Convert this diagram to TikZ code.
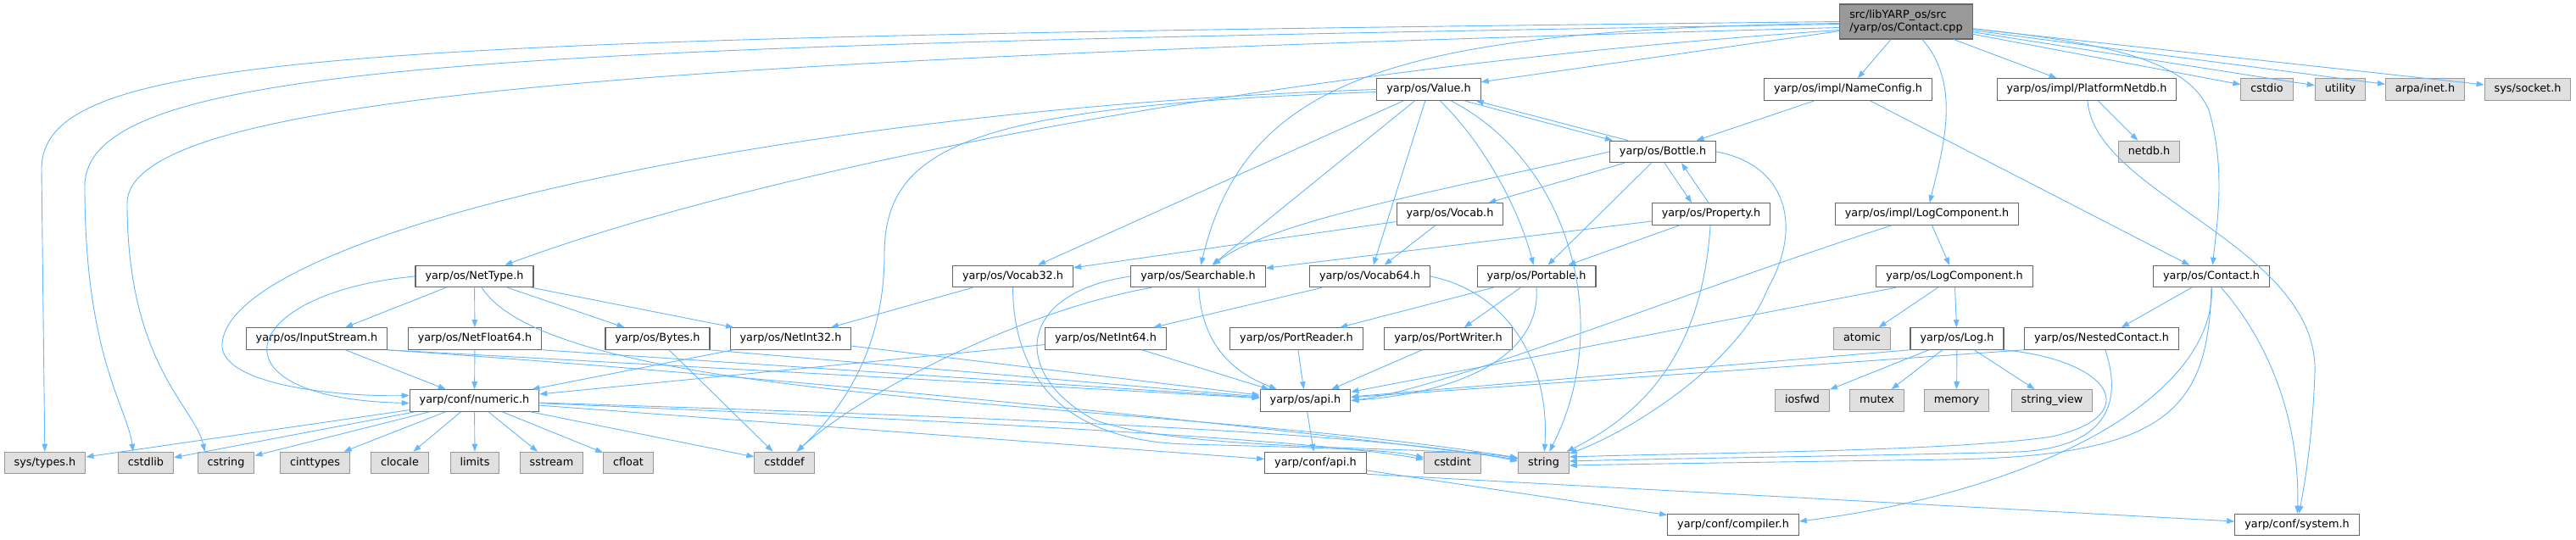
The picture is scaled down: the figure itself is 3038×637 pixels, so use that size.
\documentclass[tikz,border=0pt]{standalone}
\usepackage{fontspec}
\setmainfont{DejaVu Sans}
\usetikzlibrary{arrows.meta}
\definecolor{edgeblue}{HTML}{63B8FF}
\definecolor{boxline}{HTML}{666666}
\definecolor{extline}{HTML}{999999}
\definecolor{extfill}{HTML}{E0E0E0}
\definecolor{rootfill}{HTML}{999999}

\begin{document}
\begin{tikzpicture}[x=1pt,y=-1pt,
    hdr/.style={draw=boxline,fill=white,line width=1.1pt,minimum height=25.5pt,
      inner xsep=11.5pt,inner ysep=2pt,text height=9.5pt,text depth=3pt,
      font=\fontsize{12.8}{15}\selectfont},
    ext/.style={hdr,draw=extline,fill=extfill},
    src/.style={hdr,fill=rootfill,align=left,minimum height=41pt,text height=,text depth=},
    dep/.style={draw=edgeblue,line width=0.9pt,-{Triangle[length=9pt,width=6.5pt]}}]
    \path[use as bounding box,fill=white] (0,0) rectangle (3038,637);

    % fichier source
    \node[src] (root) at (2248,25.5) {src/libYARP\_os/src\\/yarp/os/Contact.cpp};

    % niveau 1 et 2
    \node[hdr] (value) at (1685,105.5) {yarp/os/Value.h};
    \node[hdr] (nameconfig) at (2179.5,105.5) {yarp/os/impl/NameConfig.h};
    \node[hdr] (platformnetdb) at (2461,105.5) {yarp/os/impl/PlatformNetdb.h};
    \node[ext] (cstdio) at (2673.5,105.5) {cstdio};
    \node[ext] (utility) at (2760,105.5) {utility};
    \node[ext] (arpainet) at (2860,105.5) {arpa/inet.h};
    \node[ext] (syssocket) at (2981,105.5) {sys/socket.h};
    \node[hdr] (bottle) at (1961,179) {yarp/os/Bottle.h};
    \node[ext] (netdb) at (2534.5,179) {netdb.h};

    % niveau 3 et 4
    \node[hdr] (vocab) at (1710,252.5) {yarp/os/Vocab.h};
    \node[hdr] (property) at (2018,252.5) {yarp/os/Property.h};
    \node[hdr] (implog) at (2272.5,252.5) {yarp/os/impl/LogComponent.h};
    \node[hdr] (nettype) at (559.5,326) {yarp/os/NetType.h};
    \node[hdr] (vocab32) at (1194.5,326) {yarp/os/Vocab32.h};
    \node[hdr] (searchable) at (1413,326) {yarp/os/Searchable.h};
    \node[hdr] (vocab64) at (1615.5,326) {yarp/os/Vocab64.h};
    \node[hdr] (portable) at (1812,326) {yarp/os/Portable.h};
    \node[hdr] (logcomp) at (2305,326) {yarp/os/LogComponent.h};
    \node[hdr] (contact) at (2608,326) {yarp/os/Contact.h};

    % niveau 5
    \node[hdr] (inputstream) at (373.5,399.5) {yarp/os/InputStream.h};
    \node[hdr] (netfloat64) at (560,399.5) {yarp/os/NetFloat64.h};
    \node[hdr] (bytes) at (775.5,399.5) {yarp/os/Bytes.h};
    \node[hdr] (netint32) at (932.5,399.5) {yarp/os/NetInt32.h};
    \node[hdr] (netint64) at (1304,399.5) {yarp/os/NetInt64.h};
    \node[hdr] (portreader) at (1529,399.5) {yarp/os/PortReader.h};
    \node[hdr] (portwriter) at (1708,399.5) {yarp/os/PortWriter.h};
    \node[ext] (atomic) at (2196,399.5) {atomic};
    \node[hdr] (log) at (2308,399.5) {yarp/os/Log.h};
    \node[hdr] (nested) at (2478.5,399.5) {yarp/os/NestedContact.h};

    % niveau 6
    \node[hdr] (numeric) at (559.5,472.5) {yarp/conf/numeric.h};
    \node[hdr] (osapi) at (1539.5,472.5) {yarp/os/api.h};
    \node[ext] (iosfwd) at (2125.5,472.5) {iosfwd};
    \node[ext] (mutex) at (2213.5,472.5) {mutex};
    \node[ext] (memory) at (2307.5,472.5) {memory};
    \node[ext] (stringview) at (2420,472.5) {string\_view};

    % niveau 7 et 8
    \node[ext] (systypes) at (53,546) {sys/types.h};
    \node[ext] (cstdlib) at (172,546) {cstdlib};
    \node[ext] (cstring) at (266.5,546) {cstring};
    \node[ext] (cinttypes) at (371.5,546) {cinttypes};
    \node[ext] (clocale) at (471.5,546) {clocale};
    \node[ext] (limits) at (560,546) {limits};
    \node[ext] (sstream) at (650.5,546) {sstream};
    \node[ext] (cfloat) at (741,546) {cfloat};
    \node[ext] (cstddef) at (925,546) {cstddef};
    \node[hdr] (confapi) at (1551.5,546) {yarp/conf/api.h};
    \node[ext] (cstdint) at (1713,546) {cstdint};
    \node[ext] (string) at (1820.5,546) {string};
    \node[hdr] (compiler) at (2044,619) {yarp/conf/compiler.h};
    \node[hdr] (system) at (2709,619) {yarp/conf/system.h};

    % inclusions directes
    \foreach \b in {value,nameconfig,platformnetdb,cstdio,utility,arpainet,syssocket}
        \draw[dep] (root) -- (\b);
    \foreach \a/\b in {nameconfig/bottle,nameconfig/contact,platformnetdb/netdb,
        value/vocab32,value/searchable,value/vocab64,bottle/vocab,bottle/portable,
        vocab/vocab32,vocab/vocab64,property/searchable,property/portable,
        implog/logcomp,logcomp/atomic,logcomp/log,logcomp/osapi,contact/nested,
        nettype/inputstream,nettype/netfloat64,nettype/bytes,nettype/netint32,
        vocab32/netint32,vocab64/netint64,portable/portreader,portable/portwriter,
        inputstream/numeric,netfloat64/numeric,bytes/cstddef,netint32/numeric,
        netint32/osapi,netint64/numeric,netint64/osapi,portreader/osapi,
        portwriter/osapi,log/iosfwd,log/mutex,log/memory,log/stringview,
        osapi/confapi,confapi/compiler}
        \draw[dep] (\a) -- (\b);
    \foreach \b in {systypes,cstdlib,cstring,cinttypes,clocale,limits,sstream,
        cfloat,cstddef,confapi}
        \draw[dep] (numeric) -- (\b);

    % depuis les coins
    \draw[dep] (inputstream.south east) -- (osapi);
    \draw[dep] (netfloat64.south east) -- (osapi);
    \draw[dep] (bytes.south east) -- (osapi);
    \draw[dep] (log.south west) -- (osapi);
    \draw[dep] (nested.south west) -- (osapi);
    \draw[dep] (confapi.south east) -- (system);

    % aller-retour
    \draw[dep] ([xshift=-20pt]value.south east) -- ([xshift=4pt]bottle.north west);
    \draw[dep] ([xshift=22pt]bottle.north west) -- ([xshift=-6pt]value.south east);
    \draw[dep] ([xshift=2pt]bottle.south) -- ([xshift=-23pt]property.north);
    \draw[dep] ([xshift=-3pt]property.north) -- ([xshift=22pt]bottle.south);

    % longues courbes du fichier source
    \draw[dep] (root.west) .. controls (400,45) and (49,60) .. (49,200) -- (systypes);
    \draw[dep] ([yshift=-3pt]root.west) .. controls (600,55) and (100,70) .. (100,220)
        .. controls (100,420) and (150,480) .. ([xshift=-15pt]cstdlib.north);
    \draw[dep] ([yshift=-7pt]root.west) .. controls (800,70) and (150,110) .. (150,240)
        .. controls (150,430) and (230,480) .. ([xshift=-25pt]cstring.north);
    \draw[dep] ([yshift=-10pt]root.west) .. controls (1500,80) and (900,200) .. (nettype);
    \draw[dep] ([yshift=-2pt]root.west) .. controls (1650,35) and (1470,90) .. (searchable);
    \draw[dep] (root) .. controls (2315,100) and (2290,180) .. (implog);
    \draw[dep] (root) .. controls (2480,50) and (2580,70) .. (2605,130)
        .. controls (2625,200) and (2615,260) .. (contact);

    % courbes de Value.h et Bottle.h
    \draw[dep] (value.west) .. controls (900,130) and (255,280) .. (262,410)
        .. controls (268,455) and (400,468) .. ([yshift=6pt]numeric.west);
    \draw[dep] ([yshift=-3pt]value.west) .. controls (1150,125) and (1043,170) .. (1043,300)
        .. controls (1043,430) and (975,500) .. (cstddef);
    \draw[dep] (value) .. controls (1760,180) and (1795,260) .. (portable);
    \draw[dep] (value) .. controls (1850,190) and (1905,380) .. (string);
    \draw[dep] (bottle.west) .. controls (1700,225) and (1500,260) .. (searchable);
    \draw[dep] (bottle.east) .. controls (2110,195) and (2125,270) .. (2085,340)
        .. controls (2050,430) and (1920,510) .. (string);
    \draw[dep] (property) .. controls (2010,370) and (1975,470) .. (string);

    % courbes du milieu
    \draw[dep] (nettype.west) .. controls (280,345) and (240,470) .. ([yshift=-3pt]numeric.west);
    \draw[dep] (nettype) .. controls (660,480) and (1350,470) .. ([yshift=6pt]string.west);
    \draw[dep] (inputstream.south east) .. controls (1000,450) and (1600,515) .. ([yshift=4pt]string.west);
    \draw[dep] (numeric) .. controls (1100,490) and (1620,508) .. ([yshift=2pt]string.west);
    \draw[dep] (numeric) .. controls (1100,495) and (1550,518) .. ([yshift=4pt]cstdint.west);
    \draw[dep] (vocab32.south) .. controls (1195,450) and (1260,520) .. (1400,524)
        .. controls (1550,528) and (1640,530) .. ([yshift=6pt]cstdint.west);
    \draw[dep] (searchable.west) .. controls (1200,345) and (1190,440) .. (1290,495)
        .. controls (1400,535) and (1700,525) .. (string);
    \draw[dep] ([xshift=25pt]searchable.south west) .. controls (1210,365) and (1020,460) .. (cstddef);
    \draw[dep] (searchable) .. controls (1418,420) and (1470,445) .. (osapi);
    \draw[dep] (vocab64.east) .. controls (1780,345) and (1828,430) .. (string);
    \draw[dep] (portable.south) .. controls (1818,430) and (1700,465) .. (osapi.east);
    \draw[dep] (implog) .. controls (2000,340) and (1700,460) .. (osapi.east);

    % courbes de droite
    \draw[dep] (log.south east) .. controls (2490,425) and (2530,490) .. (2420,515)
        .. controls (2300,533) and (2000,534) .. ([yshift=7pt]string.east);
    \draw[dep] (nested) .. controls (2505,480) and (2480,528) .. (2380,533)
        .. controls (2200,538) and (2000,540) .. ([yshift=2pt]string.east);
    \draw[dep] (contact.south) .. controls (2604,480) and (2560,538) .. (2300,542)
        .. controls (2100,545) and (1950,547) .. ([yshift=-3pt]string.east);
    \draw[dep] (contact) .. controls (2612,470) and (2400,580) .. ([yshift=4pt]compiler.east);
    \draw[dep] (contact) .. controls (2690,420) and (2712,520) .. (system);
    \draw[dep] (platformnetdb) .. controls (2470,230) and (2735,290) .. (2730,440)
        .. controls (2727,520) and (2718,570) .. (system);
\end{tikzpicture}
\end{document}
